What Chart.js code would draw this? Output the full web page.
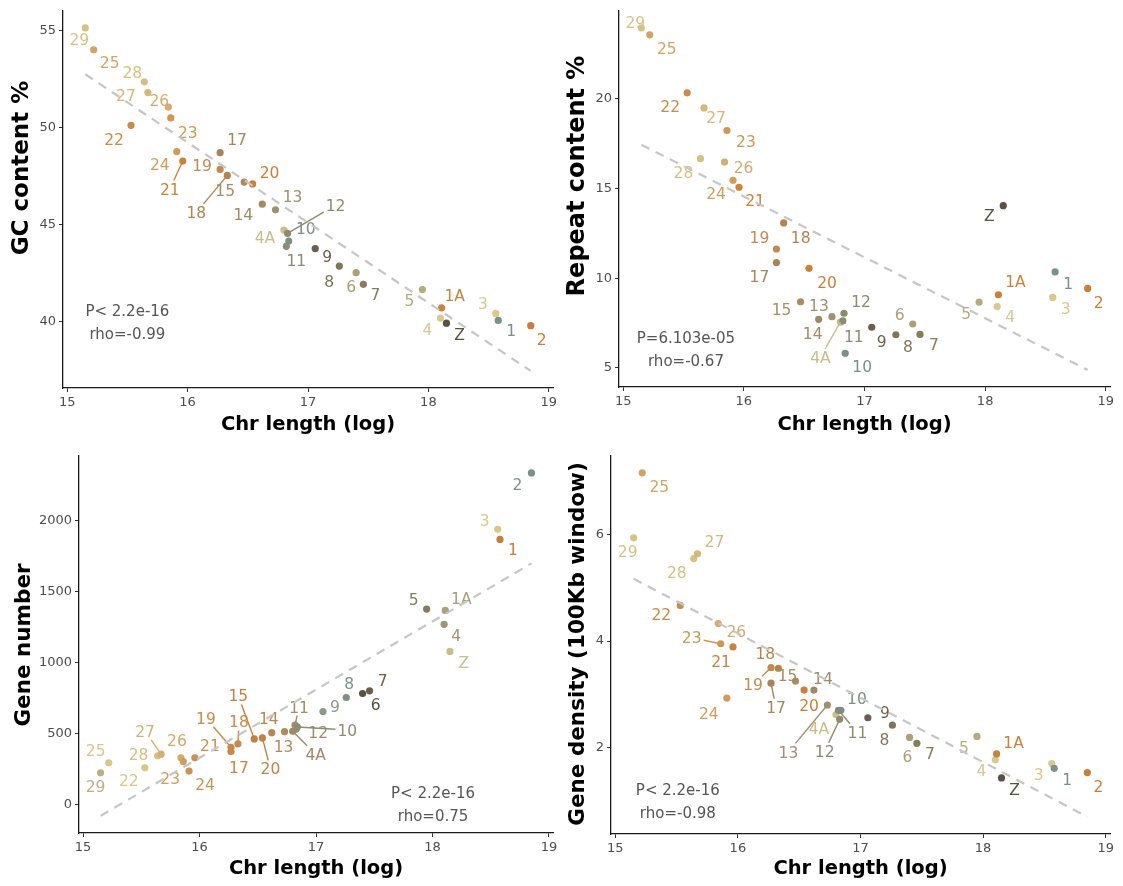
<!DOCTYPE html>
<html>
<head>
<meta charset="utf-8">
<script src="https://cdn.jsdelivr.net/npm/chart.js@4.4.0/dist/chart.umd.min.js"></script>
<style>
  body { margin: 0; background: #fff; }
  #wrap { position: relative; width: 1123px; height: 886px; }
  canvas { position: absolute; }
</style>
</head>
<body>
<div id="wrap"></div>
<script>
// chromosomes, sorted by length
const chroms = ['29','25','22','28','27','26','23','24','21','17','19','18','15','20','14','13',
                '4A','11','12','10','9','8','6','7','5','4','1A','Z','3','1','2'];
const chrLength = [15.15,15.22,15.53,15.64,15.67,15.84,15.86,15.91,15.96,16.27,16.27,16.33,16.47,16.54,16.62,16.73,
                   16.80,16.82,16.83,16.84,17.06,17.26,17.40,17.46,17.95,18.10,18.11,18.15,18.56,18.58,18.85];
const gcContent = [55.12,53.99,50.10,52.34,51.79,51.04,50.48,48.75,48.26,48.69,47.83,47.52,47.18,47.08,46.04,45.75,
                   44.71,43.87,44.54,44.14,43.75,42.85,42.51,41.91,41.64,40.17,40.70,39.91,40.41,40.05,39.78];
const repeatContent = [23.95,23.56,20.33,16.66,19.49,16.47,18.23,15.46,15.07,10.87,11.63,13.08,8.69,10.55,7.71,7.86,
                       7.55,7.62,8.05,5.82,7.27,6.85,7.45,6.87,8.67,8.42,9.08,14.04,8.93,10.35,9.43];
const geneNumber = [222,292,257,342,353,327,301,234,327,372,402,426,461,468,505,512,
                    514,558,530,545,654,753,781,800,1377,1269,1367,1078,1940,1868,2337];
const geneDensity = [5.94,7.16,4.67,5.55,5.64,4.33,3.95,2.93,3.89,3.21,3.50,3.49,3.25,3.08,3.08,2.80,
                     2.62,2.70,2.53,2.70,2.56,2.42,2.19,2.08,2.21,1.77,1.88,1.43,1.70,1.61,1.53];

// regression lines (ends at the shortest and longest chromosome)
const fitX = [15.15, 18.85];
const gcFit = [52.73, 37.45];
const repeatFit = [17.44, 4.89];
const geneFit = [-82, 1699];
const densityFit = [5.17, 0.70];

// ticks
const xTicks = [15, 16, 17, 18, 19];
const gcTicks = [40, 45, 50, 55];
const repeatTicks = [5, 10, 15, 20];
const geneTicks = [0, 500, 1000, 1500, 2000];
const densityTicks = [2, 4, 6];

// correlation text
const gcStats = ['P< 2.2e-16', 'rho=-0.99'];
const repeatStats = ['P=6.103e-05', 'rho=-0.67'];
const geneStats = ['P< 2.2e-16', 'rho=0.75'];
const densityStats = ['P< 2.2e-16', 'rho=-0.98'];

const FONT = "'DejaVu Sans', sans-serif";
const LABEL_SIZE = 15.5;

// point / label colours
const colMain = {
  '29':'#d6c384','25':'#d2a462','22':'#cb8a45','28':'#d6c080','27':'#d4b878','26':'#d4ac6c','23':'#cf974f',
  '24':'#d19c58','21':'#c9843a','17':'#a9845a','19':'#c28a4e','18':'#b4844e','15':'#ab8b62','20':'#cd7f38',
  '14':'#9f8a64','13':'#9e9070','4A':'#c9be8a','11':'#8a8c74','12':'#8e8a6e','10':'#7d8e84','9':'#6b5e4c',
  '8':'#7e7658','6':'#aaa174','7':'#857d5c','5':'#b2ac7c','4':'#d4ca92','1A':'#c9823c','Z':'#5b5142',
  '3':'#d8c98a','1':'#7a9088','2':'#c97d38'
};
const colGene = {
  '25':'#d6c88a','29':'#b9b084','22':'#d6c88a','28':'#d4c283','27':'#d2b273','26':'#d2aa6a','23':'#d09e5c',
  '24':'#ca9252','21':'#cc9052','19':'#c98a4a','18':'#c98a4a','17':'#ca8642','15':'#c6803e','20':'#c4813f',
  '14':'#bb8650','13':'#b08b5e','11':'#a48c64','12':'#a58a62','10':'#8e8c72','4A':'#a08868','9':'#8c9a88',
  '8':'#7e9086','6':'#5b5142','7':'#6b5f48','5':'#857b5f','1A':'#a99f7a','4':'#9e9572','Z':'#c9be8a',
  '3':'#d8c98a','1':'#c97d38','2':'#7a9088'
};

// label offsets in px from the point: [dx, dy, segment]
const offGC = {
  '29':[-6,12],'25':[16,13],'28':[-12,-9],'27':[-22,3],'26':[-9,-7],'23':[17,14],'22':[-17,14],'24':[-17,13],
  '21':[-13,28,1],'17':[17,-13],'19':[-18,-4],'15':[-19,8],'18':[-31,37,1],'20':[17,-12],'13':[17,-13],
  '14':[-19,10],'12':[48,-28,1],'10':[17,-13],'4A':[-19,7],'11':[10,14],'9':[12,8],'8':[-10,15],'6':[-5,14],
  '7':[12,10],'5':[-13,11],'1A':[13,-12],'4':[-13,11],'Z':[13,11],'3':[-13,-10],'1':[13,10],'2':[11,14]
};
const offRepeat = {
  '29':[-6,-5],'25':[17,14],'22':[-17,14],'27':[12,10],'23':[19,11],'28':[-17,14],'26':[19,5],'24':[-17,13],
  '21':[16,13],'19':[-17,-12],'18':[17,14],'17':[-17,14],'20':[18,14],'15':[-19,8],'13':[-13,-11],'12':[17,-12],
  '14':[-6,14],'11':[11,15],'4A':[-20,35,1],'10':[17,13],'9':[10,14],'8':[12,12],'6':[-13,-10],'7':[14,10],
  'Z':[-14,10],'1':[13,11],'2':[11,14],'1A':[17,-13],'3':[13,11],'5':[-13,11],'4':[13,10]
};
const offGene = {
  '25':[-13,-12],'29':[-5,14],'22':[-16,13],'28':[-19,-1],'27':[-16,-23,1],'26':[-4,-17],'23':[-13,17],
  '24':[16,13],'21':[15,-12],'19':[-25,-29,1],'18':[1,-22,1],'17':[8,16],'15':[-16,-43,1],'20':[8,31,1],
  '14':[-3,-14],'13':[-1,15],'11':[4,-18,1],'12':[22,3],'10':[50,3,1],'4A':[23,23,1],'9':[12,-5],'8':[3,-14],
  '7':[13,-10],'6':[13,11],'5':[-13,-10],'1A':[16,-12],'4':[12,11],'Z':[14,11],'3':[-13,-9],'1':[13,10],'2':[-14,11]
};
const offDensity = {
  '25':[17,14],'29':[-6,14],'27':[17,-12],'28':[-17,14],'22':[-19,9],'26':[18,8],'23':[-29,-6,1],'21':[-12,14],
  '18':[-13,-15],'19':[-18,17,1],'17':[5,24,1],'15':[-8,-6],'14':[9,-12],'20':[5,15],'10':[16,-12],'4A':[-17,14],
  '13':[-39,47,1],'12':[-15,32,1],'11':[19,22,1],'9':[17,-5],'8':[-8,14],'6':[-2,19],'7':[13,10],'24':[-18,15],
  '5':[-13,11],'1A':[17,-12],'4':[-14,11],'Z':[13,11],'3':[-13,11],'1':[13,11],'2':[11,14]
};

function repelPlugin(p) {
  return {
    id: 'repel',
    beforeDatasetDraw(chart, args) {
      if (args.index !== 1) return;
      const ctx = chart.ctx, xs = chart.scales.x, ys = chart.scales.y;
      ctx.save();
      ctx.font = LABEL_SIZE + 'px ' + FONT;
      ctx.textAlign = 'center';
      ctx.textBaseline = 'alphabetic';
      chroms.forEach((c, i) => {
        const px = xs.getPixelForValue(chrLength[i]);
        const py = ys.getPixelForValue(p.values[i]);
        const off = p.offsets[c];
        const lx = px + off[0], ly = py + off[1];
        ctx.fillStyle = p.colors[c];
        ctx.strokeStyle = p.colors[c];
        if (off[2]) {
          const hw = ctx.measureText(c).width / 2 + 2, hh = LABEL_SIZE * 0.36 + 3;
          const dx = px - lx, dy = py - ly;
          const t = Math.min(hw / Math.max(Math.abs(dx), 1e-6), hh / Math.max(Math.abs(dy), 1e-6));
          ctx.lineWidth = 1.4;
          ctx.beginPath();
          ctx.moveTo(px, py);
          ctx.lineTo(lx + dx * t, ly + dy * t);
          ctx.stroke();
        }
        ctx.fillText(c, lx, ly + LABEL_SIZE * 0.36);
      });
      // correlation text
      ctx.fillStyle = '#555';
      ctx.font = '15px ' + FONT;
      const sx = xs.getPixelForValue(p.statsAt[0]);
      const sy = ys.getPixelForValue(p.statsAt[1]);
      p.stats.forEach((s, k) => ctx.fillText(s, sx, sy + k * 23.5 + 5.4));
      ctx.restore();
    },
    afterDraw(chart) {
      // y axis title
      const ctx = chart.ctx;
      const t = p.yTitle;
      const cy = t.cy != null ? t.cy - p.box.y : (chart.chartArea.top + chart.chartArea.bottom) / 2;
      ctx.save();
      ctx.translate(t.cx - p.box.x, cy);
      ctx.rotate(-Math.PI / 2);
      ctx.font = 'bold ' + t.size + 'px ' + FONT;
      ctx.fillStyle = '#000';
      ctx.textAlign = 'center';
      ctx.textBaseline = 'middle';
      ctx.fillText(t.text, 0, 0);
      ctx.restore();
    }
  };
}

function makePanel(p) {
  const cv = document.createElement('canvas');
  cv.width = p.box.w; cv.height = p.box.h;
  cv.style.left = p.box.x + 'px'; cv.style.top = p.box.y + 'px';
  document.getElementById('wrap').appendChild(cv);
  const yW = p.area.l - p.box.x;
  const xH = p.box.y + p.box.h - p.area.b;
  const axisCommon = {
    grid: { drawOnChartArea: false, drawTicks: true, tickLength: 4, color: '#333', lineWidth: 1 },
    border: { display: true, color: '#1a1a1a', width: 1.3 }
  };
  new Chart(cv, {
    type: 'scatter',
    data: {
      datasets: [
        {
          data: chrLength.map((x, i) => ({ x: x, y: p.values[i] })),
          backgroundColor: chroms.map(c => p.colors[c]),
          pointRadius: 3.6, borderWidth: 0, order: 1
        },
        {
          data: fitX.map((x, i) => ({ x: x, y: p.fit[i] })),
          showLine: true, borderColor: '#c6c6c6', borderWidth: 2.2, borderDash: [9, 7],
          pointRadius: 0, order: 0
        }
      ]
    },
    options: {
      responsive: false, animation: false, devicePixelRatio: 1,
      layout: { padding: { top: p.area.t - p.box.y, right: p.box.x + p.box.w - p.area.r, left: 0, bottom: 0 } },
      plugins: { legend: { display: false }, tooltip: { enabled: false } },
      scales: {
        x: Object.assign({
          type: 'linear', min: 14.965, max: 19.035,
          afterBuildTicks: s => { s.ticks = xTicks.map(v => ({ value: v })); },
          afterFit: s => { s.height = xH; },
          ticks: { color: '#4d4d4d', font: { family: FONT, size: 13 }, padding: 3, maxRotation: 0, autoSkip: false,
                   callback: v => String(v) },
          title: { display: true, text: 'Chr length (log)', color: '#000',
                   font: { family: FONT, size: 19.5, weight: 'bold' }, padding: { top: 0, bottom: 0 } }
        }, axisCommon),
        y: Object.assign({
          type: 'linear', min: p.yRange[0], max: p.yRange[1],
          afterBuildTicks: s => { s.ticks = p.ticks.map(v => ({ value: v })); },
          afterFit: s => { s.width = yW; },
          ticks: { color: '#4d4d4d', font: { family: FONT, size: 13 }, padding: 3, autoSkip: false,
                   callback: v => String(v) },
          title: { display: false }
        }, axisCommon)
      }
    },
    plugins: [repelPlugin(p)]
  });
}

makePanel({
  box: { x: 0, y: 0, w: 561, h: 437 }, area: { l: 63, r: 553, t: 8, b: 388 },
  values: gcContent, fit: gcFit, ticks: gcTicks, yRange: [36.57, 56.0],
  yTitle: { text: 'GC content %', cx: 22, cy: 168, size: 23 },
  colors: colMain, offsets: offGC, stats: gcStats, statsAt: [15.50, 40.56]
});
makePanel({
  box: { x: 561, y: 0, w: 562, h: 437 }, area: { l: 619, r: 1110, t: 8, b: 387 },
  values: repeatContent, fit: repeatFit, ticks: repeatTicks, yRange: [3.94, 24.9],
  yTitle: { text: 'Repeat content %', cx: 578, cy: 176, size: 24 },
  colors: colMain, offsets: offRepeat, stats: repeatStats, statsAt: [15.52, 6.72]
});
makePanel({
  box: { x: 0, y: 445, w: 561, h: 436 }, area: { l: 79, r: 553, t: 454, b: 833 },
  values: geneNumber, fit: geneFit, ticks: geneTicks, yRange: [-203, 2458],
  yTitle: { text: 'Gene number', cx: 24, cy: 645, size: 21.5 },
  colors: colGene, offsets: offGene, stats: geneStats, statsAt: [18.005, 84]
});
makePanel({
  box: { x: 561, y: 445, w: 562, h: 436 }, area: { l: 611, r: 1110, t: 454, b: 834 },
  values: geneDensity, fit: densityFit, ticks: densityTicks, yRange: [0.377, 7.48],
  yTitle: { text: 'Gene density (100Kb window)', cx: 578, cy: 644, size: 21.5 },
  colors: colMain, offsets: offDensity, stats: densityStats, statsAt: [15.51, 1.215]
});
</script>
</body>
</html>
